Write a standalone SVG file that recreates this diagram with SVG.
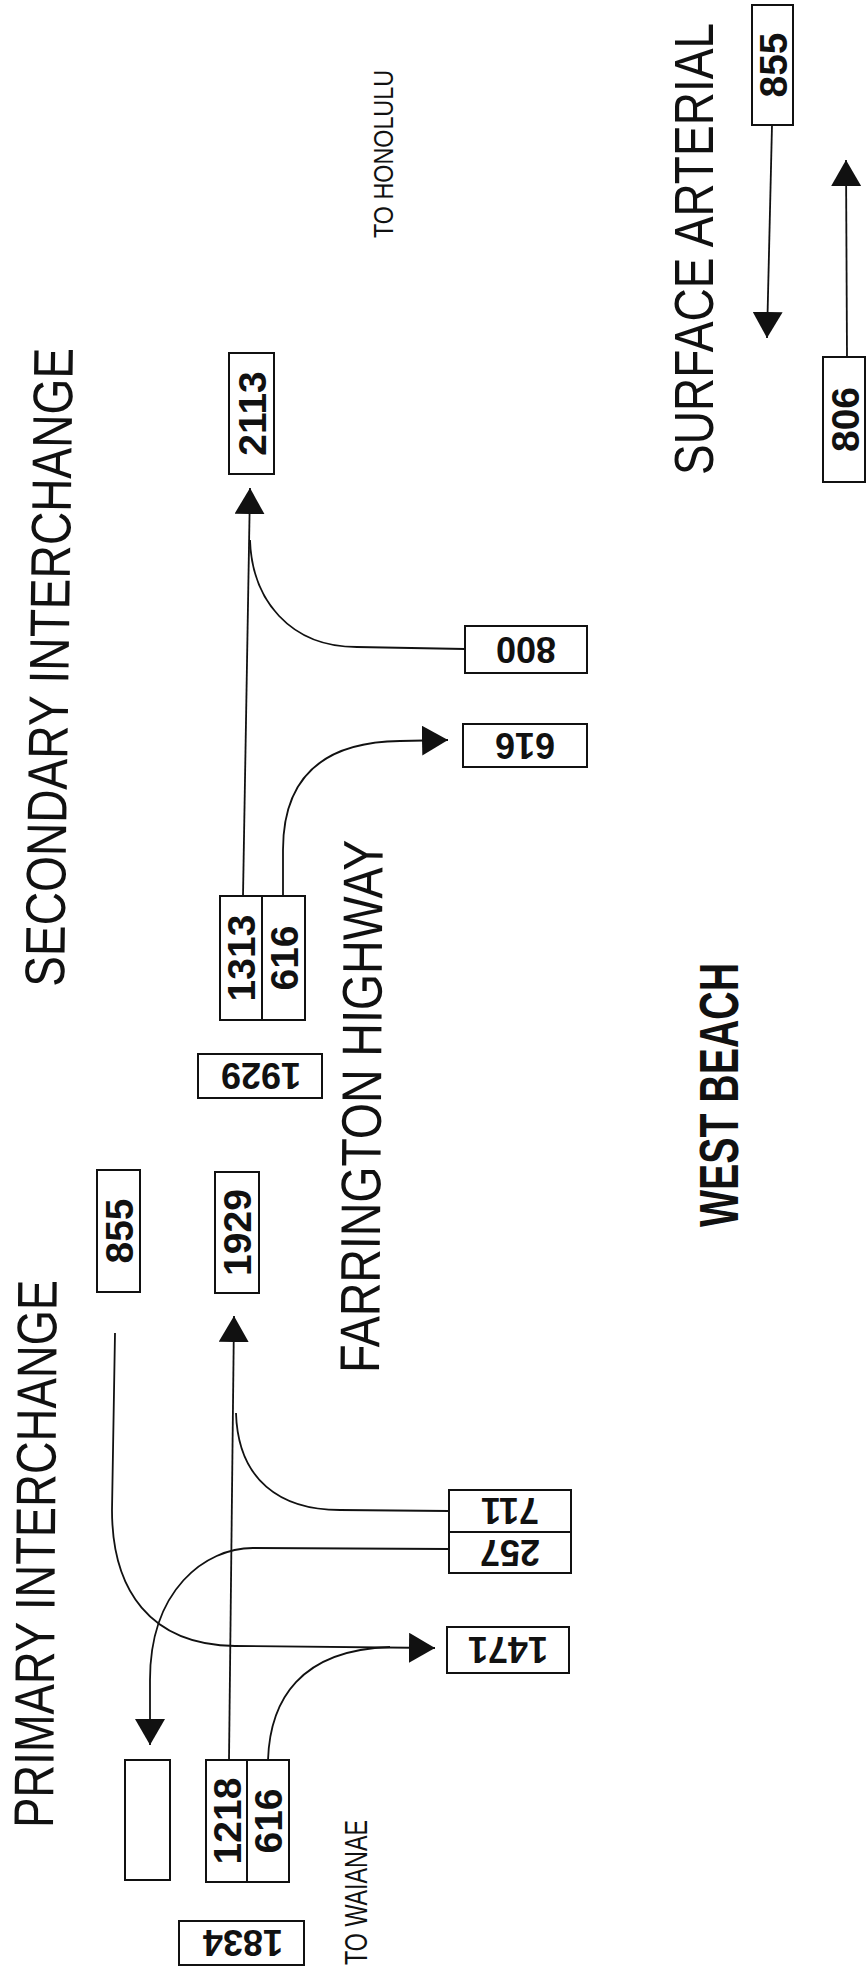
<svg xmlns="http://www.w3.org/2000/svg" width="866" height="1977" viewBox="0 0 866 1977">
<style>
.bg{fill:#fff}
.box{fill:#fff;stroke:#111;stroke-width:2}
.div{stroke:#111;stroke-width:2}
.num{font-family:"Liberation Sans",Arial,sans-serif;font-weight:bold;font-size:39px;fill:#111;text-anchor:middle}
.numr{font-family:"Liberation Sans",Arial,sans-serif;font-weight:bold;font-size:36px;fill:#111;text-anchor:middle}
.head{font-family:"Liberation Sans",Arial,sans-serif;font-size:56px;fill:#111}
.small{font-family:"Liberation Sans",Arial,sans-serif;fill:#111}
.wb{font-family:"Liberation Sans",Arial,sans-serif;font-weight:bold;font-size:56px;fill:#111}
.conn{fill:none;stroke:#111;stroke-width:1.8}
</style>
<defs>
<marker id="arr" markerUnits="userSpaceOnUse" viewBox="0 0 26 30" refX="26" refY="15" markerWidth="26" markerHeight="30" orient="auto">
<path d="M0,0 L26,15 L0,30 z" fill="#111"/>
</marker>
</defs>
<rect class="bg" x="0" y="0" width="866" height="1977"/>

<g id="labels">
<text class="head" transform="translate(53,1828) rotate(-89.6)" textLength="548" lengthAdjust="spacingAndGlyphs">PRIMARY INTERCHANGE</text>
<text class="head" font-size="54" transform="translate(64,987) rotate(-89.2)" textLength="639" lengthAdjust="spacingAndGlyphs">SECONDARY INTERCHANGE</text>
<text class="head" transform="translate(379,1373) rotate(-89.6)" textLength="533" lengthAdjust="spacingAndGlyphs">FARRINGTON HIGHWAY</text>
<text class="head" transform="translate(713,475) rotate(-90)" textLength="452" lengthAdjust="spacingAndGlyphs">SURFACE ARTERIAL</text>
<text class="small" font-size="28" transform="translate(393,238) rotate(-90)" textLength="168" lengthAdjust="spacingAndGlyphs">TO HONOLULU</text>
<text class="small" font-size="32" transform="translate(367,1965) rotate(-90)" textLength="145" lengthAdjust="spacingAndGlyphs">TO WAIANAE</text>
<text class="wb" transform="translate(738,1227) rotate(-90)" textLength="264" lengthAdjust="spacingAndGlyphs">WEST BEACH</text>
</g>

<g id="connectors">
<path class="conn" d="M229,1760 L234,1316" marker-end="url(#arr)"/>
<path class="conn" d="M449,1511 L340,1510 C280,1510 238,1480 236,1413"/>
<path class="conn" d="M449,1549 L253,1548 C205,1548 150,1590 150,1680 L150,1745" marker-end="url(#arr)"/>
<path class="conn" d="M115,1333 L112,1510 C112,1590 150,1645 235,1646 L435,1648" marker-end="url(#arr)"/>
<path class="conn" d="M268,1760 C270,1700 300,1650 390,1647"/>
<path class="conn" d="M243,896 L250,488" marker-end="url(#arr)"/>
<path class="conn" d="M465,649 L357,647 C290,647 252,600 250,540"/>
<path class="conn" d="M283,896 L283,850 C283,780 320,742 400,741 L448,740" marker-end="url(#arr)"/>
<path class="conn" d="M772,125 L767,338" marker-end="url(#arr)"/>
<path class="conn" d="M847,357 L846,160" marker-end="url(#arr)"/>
</g>

<g id="node-empty"><rect class="box" x="125" y="1760" width="45" height="120"/></g>

<g id="node-1218-616">
<rect class="box" x="206" y="1760" width="83" height="122"/>
<line class="div" x1="247" y1="1760" x2="247" y2="1882"/>
<text class="num" transform="translate(226.5,1821) rotate(-90)" dy=".36em">1218</text>
<text class="num" transform="translate(268,1821) rotate(-90)" dy=".36em">616</text>
</g>

<g id="node-1834">
<rect class="box" x="179" y="1921" width="125" height="44"/>
<text class="numr" transform="translate(243,1943) rotate(180)" dy=".36em">1834</text>
</g>

<g id="node-855a">
<rect class="box" x="97" y="1170" width="43" height="122"/>
<text class="num" transform="translate(118.5,1231) rotate(-90)" dy=".36em">855</text>
</g>

<g id="node-1929a">
<rect class="box" x="215" y="1172" width="44" height="121"/>
<text class="num" transform="translate(237,1232.5) rotate(-90)" dy=".36em">1929</text>
</g>

<g id="node-1929b">
<rect class="box" x="198" y="1054" width="124" height="44"/>
<text class="numr" font-size="38" transform="translate(261,1076) rotate(180)" dy=".36em">1929</text>
</g>

<g id="node-1313-616">
<rect class="box" x="220" y="896" width="85" height="124"/>
<line class="div" x1="262" y1="896" x2="262" y2="1020"/>
<text class="num" transform="translate(241,958) rotate(-90)" dy=".36em">1313</text>
<text class="num" transform="translate(283.5,958) rotate(-90)" dy=".36em">616</text>
</g>

<g id="node-2113">
<rect class="box" x="229" y="353" width="45" height="121"/>
<text class="num" transform="translate(251.5,413.5) rotate(-90)" dy=".36em">2113</text>
</g>

<g id="node-711-257">
<rect class="box" x="449" y="1490" width="122" height="83"/>
<line class="div" x1="449" y1="1532" x2="571" y2="1532"/>
<text class="numr" transform="translate(510,1511) rotate(180)" dy=".36em">711</text>
<text class="numr" transform="translate(510,1552.5) rotate(180)" dy=".36em">257</text>
</g>

<g id="node-1471">
<rect class="box" x="447" y="1627" width="122" height="46"/>
<text class="numr" transform="translate(508,1650) rotate(180)" dy=".36em">1471</text>
</g>

<g id="node-800">
<rect class="box" x="465" y="626" width="122" height="47"/>
<text class="numr" transform="translate(526,649.5) rotate(180)" dy=".36em">800</text>
</g>

<g id="node-616b">
<rect class="box" x="463" y="724" width="124" height="43"/>
<text class="numr" transform="translate(525,745.5) rotate(180)" dy=".36em">616</text>
</g>

<g id="node-855b">
<rect class="box" x="752" y="5" width="41" height="120"/>
<text class="num" transform="translate(772.5,65) rotate(-90)" dy=".36em">855</text>
</g>

<g id="node-806">
<rect class="box" x="823" y="357" width="42" height="125"/>
<text class="num" transform="translate(844.5,419.5) rotate(-90)" dy=".36em">806</text>
</g>
</svg>
